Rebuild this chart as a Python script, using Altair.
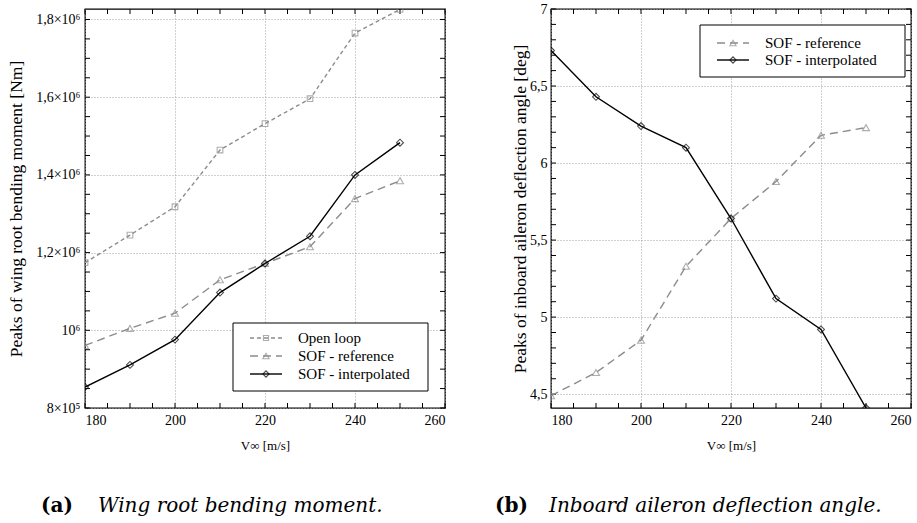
import altair as alt
import pandas as pd

# ---------------- data ----------------
speed = [180, 190, 200, 210, 220, 230, 240, 250]
wrbm_open_loop = [1.174e6, 1.245e6, 1.318e6, 1.464e6, 1.532e6, 1.596e6, 1.765e6, 1.826e6]
wrbm_sof_reference = [0.961e6, 1.005e6, 1.044e6, 1.130e6, 1.172e6, 1.215e6, 1.339e6, 1.385e6]
wrbm_sof_interpolated = [0.854e6, 0.911e6, 0.976e6, 1.097e6, 1.172e6, 1.242e6, 1.400e6, 1.483e6]
aileron_sof_reference = [4.49, 4.64, 4.85, 5.33, 5.64, 5.88, 6.18, 6.23]
aileron_sof_interpolated = [6.73, 6.43, 6.24, 6.10, 5.64, 5.12, 4.92, 4.41]

series_labels = ["Open loop", "SOF - reference", "SOF - interpolated"]
x_title = "V\u221e [m/s]"
y_title_left = "Peaks of wing root bending moment [Nm]"
y_title_right = "Peaks of inboard aileron deflection angle [deg]"
caption_tags = ["(a)", "(b)"]
caption_texts = ["Wing root bending moment.", "Inboard aileron deflection angle."]

x_major = [180, 200, 220, 240, 260]
x_minor = list(range(180, 261, 5))
y_major_left = [800000, 1000000, 1200000, 1400000, 1600000, 1800000]
y_minor_left = [800000 + 50000 * k for k in range(21)]
y_major_right = [4.5, 5.0, 5.5, 6.0, 6.5, 7.0]
y_minor_right = [round(4.5 + 0.1 * k, 1) for k in range(26)]

# ---------------- style ----------------
W, H = 360, 399
GRAY = "#8c8c8c"
FONT = "Liberation Serif"
CAP_FONT = "DejaVu Serif"
TICK = 5

left_label_expr = (
    "datum.value == 1000000 ? '10\u2076' : (datum.value < 1000000 ? '8\u00d710\u2075' : "
    "replace(format(datum.value / 1000000, '.1f'), '.', ',') + '\u00d710\u2076')"
)
right_label_expr = "replace(format(datum.value, '.1~f'), '.', ',')"


def panel(series, ydomain, y_major, y_minor, label_expr, y_title, y_label_pad, y_title_pad,
          legend_box, legend_rows, tag, text, tag_x, text_x):
    xs = alt.X("v:Q", scale=alt.Scale(domain=[180, 260], nice=False, zero=False),
               axis=alt.Axis(values=x_major, title=x_title, format="d", grid=True,
                             labelPadding=5, titlePadding=12, titleFontSize=13))
    ys = alt.Y("val:Q", scale=alt.Scale(domain=ydomain, nice=False, zero=False),
               axis=alt.Axis(values=y_major, title=y_title, labelExpr=label_expr, grid=True,
                             labelPadding=y_label_pad, titlePadding=y_title_pad, titleFontSize=17.5))

    layers = []
    xt = pd.DataFrame({"v": x_minor})
    yt = pd.DataFrame({"val": y_minor})
    layers.append(alt.Chart(xt).mark_rule(color="black", strokeWidth=1).encode(
        x=xs, y=alt.value(H), y2=alt.value(H - TICK)))
    layers.append(alt.Chart(xt).mark_rule(color="black", strokeWidth=1).encode(
        x=xs, y=alt.value(0), y2=alt.value(TICK)))
    layers.append(alt.Chart(yt).mark_rule(color="black", strokeWidth=1).encode(
        y=ys, x=alt.value(0), x2=alt.value(TICK)))
    layers.append(alt.Chart(yt).mark_rule(color="black", strokeWidth=1).encode(
        y=ys, x=alt.value(W), x2=alt.value(W - TICK)))

    for label, values, color, dash, shape, size in series:
        df = pd.DataFrame({"v": speed, "val": values, "s": label})
        line_kw = dict(color=color, strokeWidth=1.4, clip=True)
        if dash:
            line_kw["strokeDash"] = dash
        layers.append(alt.Chart(df).mark_line(**line_kw).encode(x=xs, y=ys))
        layers.append(alt.Chart(df).mark_point(shape=shape, size=size, filled=False,
                                               color=color, strokeWidth=1.1, clip=True).encode(x=xs, y=ys))

    bx0, bx1, by0, by1 = legend_box
    layers.append(alt.Chart(pd.DataFrame({"a": [0]})).mark_rect(
        fill="white", stroke="black", strokeWidth=1).encode(
        x=alt.value(bx0), x2=alt.value(bx1), y=alt.value(by0), y2=alt.value(by1)))
    for (label, values, color, dash, shape, size), ry in zip(series, legend_rows):
        d = pd.DataFrame({"label": [label]})
        rk = dict(color=color, strokeWidth=1.4)
        if dash:
            rk["strokeDash"] = dash
        layers.append(alt.Chart(d).mark_rule(**rk).encode(
            x=alt.value(bx0 + 17), x2=alt.value(bx0 + 49), y=alt.value(ry)))
        layers.append(alt.Chart(d).mark_point(shape=shape, size=size * 0.8, filled=False,
                                              color=color, strokeWidth=1.1).encode(
            x=alt.value(bx0 + 33), y=alt.value(ry)))
        layers.append(alt.Chart(d).mark_text(align="left", baseline="middle", font=FONT,
                                             fontSize=15, color="black").encode(
            x=alt.value(bx0 + 65), y=alt.value(ry), text="label:N"))

    layers.append(alt.Chart(pd.DataFrame({"t": [tag]})).mark_text(
        align="left", baseline="middle", font=CAP_FONT, fontSize=20, fontWeight="bold", color="black").encode(
        x=alt.value(tag_x), y=alt.value(H + 98), text="t:N"))
    layers.append(alt.Chart(pd.DataFrame({"t": [text]})).mark_text(
        align="left", baseline="middle", font=CAP_FONT, fontSize=20, fontStyle="italic", color="black").encode(
        x=alt.value(text_x), y=alt.value(H + 98), text="t:N"))

    return alt.layer(*layers).properties(width=W, height=H)


left_series = [
    (series_labels[0], wrbm_open_loop, GRAY, [4, 3], "square", 32),
    (series_labels[1], wrbm_sof_reference, GRAY, [8, 5], "triangle-up", 48),
    (series_labels[2], wrbm_sof_interpolated, "black", None, "diamond", 48),
]
right_series = [
    (series_labels[1], aileron_sof_reference, GRAY, [8, 5], "triangle-up", 48),
    (series_labels[2], aileron_sof_interpolated, "black", None, "diamond", 48),
]

left = panel(left_series, [800000, 1827000], y_major_left, y_minor_left, left_label_expr,
             y_title_left, 5, 10, (148, 343, 314, 382), [329, 347, 365],
             caption_tags[0], caption_texts[0], -44, 13)
right = panel(right_series, [4.41, 7.0], y_major_right, y_minor_right, right_label_expr,
              y_title_right, 4, 0, (149, 354, 16, 68), [34, 51],
              caption_tags[1], caption_texts[1], -56, -2)

chart = alt.hconcat(left, right, spacing=106, bounds="flush").properties(
    padding={"left": 7, "top": 1, "right": 2, "bottom": 2}
).configure(
    font=FONT
).configure_view(
    stroke="black", strokeWidth=1.3
).configure_axis(
    domain=False, ticks=False, grid=True, gridColor="#a0a0a0", gridDash=[1, 2], gridWidth=1,
    labelFont=FONT, labelFontSize=14, labelColor="black",
    titleFont=FONT, titleFontWeight="normal", titleColor="black",
)

chart.save("out.html", embed_options={"renderer": "svg", "actions": False})
